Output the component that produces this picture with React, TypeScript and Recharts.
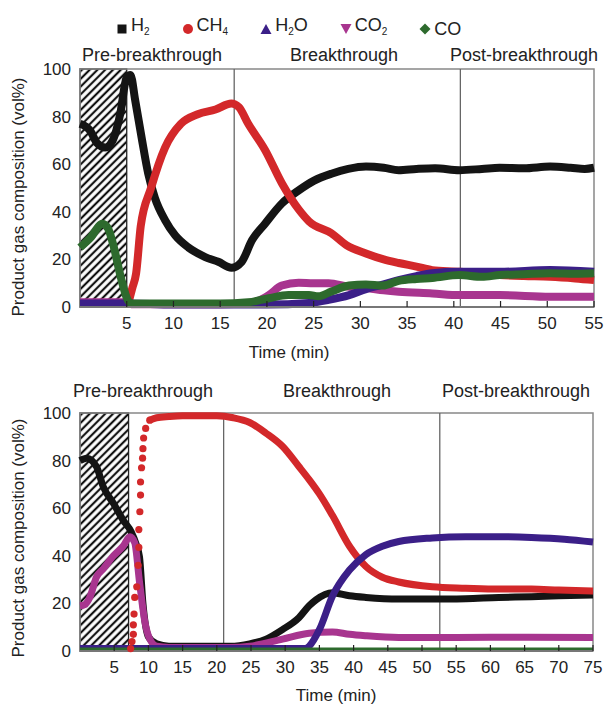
import React from "react"
import {
  ComposedChart,
  Line,
  XAxis,
  YAxis,
  ReferenceArea,
  ReferenceLine,
} from "recharts"

// [time (min), vol%]
const topH2 = [
  [0, 77], [1.1, 74], [1.8, 69], [2.7, 67], [3.5, 70], [4.3, 81], [5, 96.5], [5.4, 97.5],
  [5.9, 87], [6.6, 71], [7.3, 56], [8, 46], [9.1, 36.5], [10.2, 30], [11.6, 25], [13.4, 21],
  [14.8, 19], [16.2, 16.5], [17.3, 19], [18.4, 28], [19.8, 35], [21.6, 43.5], [23.4, 49],
  [25, 53], [26.9, 56], [28.7, 58], [30.6, 59], [32.5, 58.5], [34.1, 57.5], [36, 58],
  [38, 58.3], [40.6, 57.5], [43, 58], [44.9, 58.5], [47.5, 58.3], [50.3, 59], [52.5, 58.5],
  [54, 58], [55, 58.5],
]
const topCH4 = [
  [5.2, 2], [5.6, 8], [6, 14], [6.5, 34], [7.6, 50], [9.1, 67], [10.8, 77], [12.6, 81],
  [14.5, 83], [16.2, 85.5], [17, 84], [18, 77], [19.8, 66], [21.6, 52], [23.4, 41], [24.5, 36],
  [26.9, 31], [28.5, 26], [30.6, 22.5], [32.5, 20], [34.1, 18.5], [36, 17], [37.7, 15.5],
  [40.6, 14.8], [42.5, 14], [44.9, 13.4], [47.5, 13], [50.3, 12.7], [53, 12], [55, 11.3],
]
const topH2O = [
  [0, 1.5], [5, 1.5], [10, 1], [20, 1], [24.5, 1.7], [26.6, 3], [28.8, 5], [30.6, 7.5],
  [32.5, 9.5], [34.1, 11.3], [36, 13], [37.7, 14.2], [40.6, 14.8], [44.9, 14.8], [50.3, 15.5],
  [55, 14.8],
]
const topCO2 = [
  [0, 2], [5, 2], [5.5, 1.2], [10, 1.2], [15, 1.2], [18, 1.5], [19, 2.5], [20.2, 5], [21.6, 9],
  [23.4, 10.2], [25, 10], [26.6, 10], [28.8, 8.5], [30.6, 8], [32.5, 7], [34.1, 6.4],
  [37.7, 5.7], [40.6, 5], [44.9, 5], [50.3, 4.3], [55, 4.3],
]
const topCO = [
  [0, 25], [1.1, 29], [2.4, 35], [3, 33], [3.5, 27], [4.4, 12], [5.1, 3], [5.5, 1.5], [10, 1.5],
  [15, 1.5], [18, 2], [20.2, 3.7], [22.3, 5], [24.5, 5], [25.5, 4.5], [26.9, 6.5], [28.8, 9],
  [30.6, 9.5], [32.4, 9], [34.1, 11], [36, 11.8], [37.7, 12.2], [40.6, 13.4], [43, 12.7],
  [44.9, 13.4], [47.5, 13.8], [50.3, 14.2], [53, 14], [55, 14.2],
]

const botH2 = [
  [0, 80], [1, 81], [2.4, 77.5], [3.4, 69], [4.9, 62], [6.3, 55], [7.5, 50], [8.2, 45],
  [8.7, 39.5], [9.2, 20], [10, 6], [11.2, 3], [13, 2], [22, 2], [24.8, 3], [27.2, 5],
  [29.6, 9], [32, 14], [33.5, 19], [34.5, 21.5], [36.9, 24.5], [39.4, 23.2], [41.8, 22.5],
  [46.6, 21.8], [51.5, 21.8], [56.4, 22], [61.2, 22.5], [66, 22.8], [70, 23.2], [75, 23.5],
]
const botCH4Rise = [
  [7.4, 1], [7.6, 4], [7.8, 7], [7.8, 11], [7.9, 15.5], [8, 22.5], [8.3, 27], [8.5, 36],
  [8.6, 43.5], [8.6, 51], [8.75, 58.5], [8.85, 65.5], [8.85, 71], [9, 77], [9.15, 81],
  [9.2, 85], [9.3, 89.5], [9.6, 93.5], [10.2, 97],
]
const botCH4 = [
  [10.2, 97], [11.2, 98], [13, 98.5], [15, 98.8], [20, 98.8], [22.4, 98], [24.8, 96],
  [27.2, 91.5], [29.6, 86], [32, 77.5], [33.5, 72], [35, 66], [36.9, 57], [39.4, 44],
  [41.8, 35.5], [44.2, 31], [46.6, 29], [51.5, 27], [56.4, 26.4], [61.2, 26], [66, 26],
  [70, 25.6], [75, 25.2],
]
const botH2O = [
  [0, 1], [33, 1], [33.5, 2], [35, 9], [36.9, 23], [39.4, 34], [41.8, 40.5], [44.2, 44],
  [46.6, 46], [51.5, 47.5], [56.4, 48], [61.2, 48], [66, 47.7], [70.8, 47], [75, 45.8],
]
const botCO2 = [
  [0, 19], [0.7, 19.5], [1.5, 23], [2.4, 31], [3.4, 34.5], [4.9, 40], [6.3, 44], [7.3, 48],
  [8, 45.5], [8.7, 29], [9.5, 12], [10.2, 5], [11.2, 2], [13, 1.5], [22, 1.5], [24.8, 2],
  [29.6, 5], [33.5, 7.5], [36.9, 8], [39.4, 7], [41.8, 6.4], [46.6, 5.7], [55, 5.7],
  [65, 5.8], [75, 5.7],
]
const botCO = [[0, 0.6], [75, 0.6]]

const topTicks = [5, 10, 15, 20, 25, 30, 35, 40, 45, 50, 55]
const botTicks = [5, 10, 15, 20, 25, 30, 35, 40, 45, 50, 55, 60, 65, 70, 75]
const yTicks = [0, 20, 40, 60, 80, 100]

const topDividers = [16.5, 40.7]
const botDividers = [21, 52.6]
const topHatchEnd = 5
const botHatchEnd = 7.1

const phases = ["Pre-breakthrough", "Breakthrough", "Post-breakthrough"]

const C = {
  h2: "#141414",
  ch4: "#d3282a",
  h2o: "#3b1f88",
  co2: "#a8358f",
  co: "#2d6a2d",
}

const FONT = '"Liberation Sans", Arial, sans-serif'
const PLOT_LEFT = 80
const PLOT_BOTTOM = 307

const pts = (a: number[][]) => a.map(([t, v]) => ({ t, v }))

function XTick(props: any) {
  const { x, payload } = props
  return (
    <g>
      <line x1={x} x2={x} y1={PLOT_BOTTOM} y2={PLOT_BOTTOM - 6} stroke="#222" strokeWidth={1.2} />
      <text x={x} y={PLOT_BOTTOM + 22} textAnchor="middle" fontSize={17} fill="#222" fontFamily={FONT}>
        {payload.value}
      </text>
    </g>
  )
}

function YTick(props: any) {
  const { y, payload } = props
  return (
    <text x={PLOT_LEFT - 9} y={y + 6} textAnchor="end" fontSize={17} fill="#222" fontFamily={FONT}>
      {payload.value}
    </text>
  )
}

interface PanelProps {
  xMax: number
  ticks: number[]
  hatchEnd: number
  dividers: number[]
  right: number
  h2: number[][]
  ch4: number[][]
  ch4Dots?: number[][]
  h2o: number[][]
  co2: number[][]
  co: number[][]
  width: number
}

function Panel(p: PanelProps) {
  return (
    <ComposedChart width={609} height={340} margin={{ top: 69, right: p.right, bottom: 0, left: 0 }}>
      <XAxis
        type="number"
        dataKey="t"
        domain={[0, p.xMax]}
        ticks={p.ticks}
        height={33}
        tick={<XTick />}
        tickLine={false}
        axisLine={{ stroke: "#777", strokeWidth: 2 }}
        allowDuplicatedCategory={false}
      />
      <YAxis
        type="number"
        domain={[0, 100]}
        ticks={yTicks}
        width={PLOT_LEFT}
        tick={<YTick />}
        tickLine={false}
        axisLine={false}
      />
      <ReferenceArea
        x1={0}
        x2={p.hatchEnd}
        y1={0}
        y2={100}
        fill="url(#hatch)"
        fillOpacity={1}
        stroke="#222"
        strokeWidth={1.3}
      />
      <ReferenceArea x1={0} x2={p.xMax} y1={0} y2={100} fill="none" stroke="#888" strokeWidth={1.5} />
      {p.dividers.map((d) => (
        <ReferenceLine key={d} x={d} stroke="#666" strokeWidth={1.3} />
      ))}
      <Line data={pts(p.h2)} dataKey="v" type="monotone" stroke={C.h2} strokeWidth={p.width} dot={false} isAnimationActive={false} />
      <Line data={pts(p.ch4)} dataKey="v" type="monotone" stroke={C.ch4} strokeWidth={p.width} dot={false} isAnimationActive={false} />
      {p.ch4Dots && (
        <Line
          data={pts(p.ch4Dots)}
          dataKey="v"
          stroke="none"
          dot={{ r: 3.6, fill: C.ch4, stroke: "none" }}
          isAnimationActive={false}
        />
      )}
      <Line data={pts(p.co2)} dataKey="v" type="monotone" stroke={C.co2} strokeWidth={p.width} dot={false} isAnimationActive={false} />
      <Line data={pts(p.h2o)} dataKey="v" type="monotone" stroke={C.h2o} strokeWidth={p.width} dot={false} isAnimationActive={false} />
      <Line data={pts(p.co)} dataKey="v" type="monotone" stroke={C.co} strokeWidth={p.ch4Dots ? 4 : p.width} dot={false} isAnimationActive={false} />
    </ComposedChart>
  )
}

function LegendIcon({ kind, color }: { kind: string; color: string }) {
  return (
    <svg width={12} height={12} style={{ marginRight: 3 }}>
      {kind === "square" && <rect x={1.5} y={1.5} width={9} height={9} fill={color} />}
      {kind === "circle" && <circle cx={6} cy={6} r={5} fill={color} />}
      {kind === "up" && <polygon points="6,1 11.5,11 0.5,11" fill={color} />}
      {kind === "down" && <polygon points="0.5,1 11.5,1 6,11" fill={color} />}
      {kind === "diamond" && <polygon points="6,0.5 11.5,6 6,11.5 0.5,6" fill={color} />}
    </svg>
  )
}

const sub = { fontSize: 10, verticalAlign: "-4px" as const }

function Legend() {
  const items = [
    { kind: "square", color: C.h2, label: <>H<span style={sub}>2</span></> },
    { kind: "circle", color: C.ch4, label: <>CH<span style={sub}>4</span></> },
    { kind: "up", color: C.h2o, label: <>H<span style={sub}>2</span>O</> },
    { kind: "down", color: C.co2, label: <>CO<span style={sub}>2</span></> },
    { kind: "diamond", color: C.co, label: <>CO</> },
  ]
  return (
    <div
      style={{
        position: "absolute",
        left: 116,
        top: 14,
        display: "flex",
        gap: 32,
        fontSize: 18,
        color: "#222",
        lineHeight: "22px",
        fontFamily: FONT,
      }}
    >
      {items.map((it, i) => (
        <div key={i} style={{ display: "flex", alignItems: "center" }}>
          <LegendIcon kind={it.kind} color={it.color} />
          <span>{it.label}</span>
        </div>
      ))}
    </div>
  )
}

export default function App() {
  const txt = { fontSize: 18, fill: "#222", fontFamily: FONT }
  return (
    <div style={{ position: "absolute", left: 0, top: 0, width: 609, height: 704, background: "#fff" }}>
      <svg width={0} height={0} style={{ position: "absolute" }}>
        <defs>
          <pattern id="hatch" width={5.5} height={5.5} patternUnits="userSpaceOnUse" patternTransform="rotate(45)">
            <rect width={5.5} height={5.5} fill="#fff" />
            <line x1={2.75} y1={0} x2={2.75} y2={5.5} stroke="#111" strokeWidth={2.2} />
          </pattern>
        </defs>
      </svg>
      <Legend />
      <div style={{ position: "absolute", left: 0, top: 0 }}>
        <Panel
          xMax={55}
          ticks={topTicks}
          hatchEnd={topHatchEnd}
          dividers={topDividers}
          right={15}
          h2={topH2}
          ch4={topCH4}
          h2o={topH2O}
          co2={topCO2}
          co={topCO}
          width={8}
        />
      </div>
      <div style={{ position: "absolute", left: 0, top: 344 }}>
        <Panel
          xMax={75}
          ticks={botTicks}
          hatchEnd={botHatchEnd}
          dividers={botDividers}
          right={16}
          h2={botH2}
          ch4={botCH4}
          ch4Dots={botCH4Rise}
          h2o={botH2O}
          co2={botCO2}
          co={botCO}
          width={7}
        />
      </div>
      <svg width={609} height={704} style={{ position: "absolute", left: 0, top: 0, pointerEvents: "none" }}>
        <text x={82} y={61} {...txt}>{phases[0]}</text>
        <text x={290} y={61} {...txt}>{phases[1]}</text>
        <text x={450} y={61} {...txt}>{phases[2]}</text>
        <text x={73} y={397} {...txt}>{phases[0]}</text>
        <text x={283} y={397} {...txt}>{phases[1]}</text>
        <text x={442} y={397} {...txt}>{phases[2]}</text>
        <text x={289} y={358} textAnchor="middle" {...txt} fontSize={17}>Time (min)</text>
        <text x={336} y={701} textAnchor="middle" {...txt} fontSize={17}>Time (min)</text>
        <text x={24} y={197} textAnchor="middle" transform="rotate(-90 24 197)" {...txt} fontSize={17}>
          Product gas composition (vol%)
        </text>
        <text x={24} y={538} textAnchor="middle" transform="rotate(-90 24 538)" {...txt} fontSize={17}>
          Product gas composition (vol%)
        </text>
      </svg>
    </div>
  )
}
